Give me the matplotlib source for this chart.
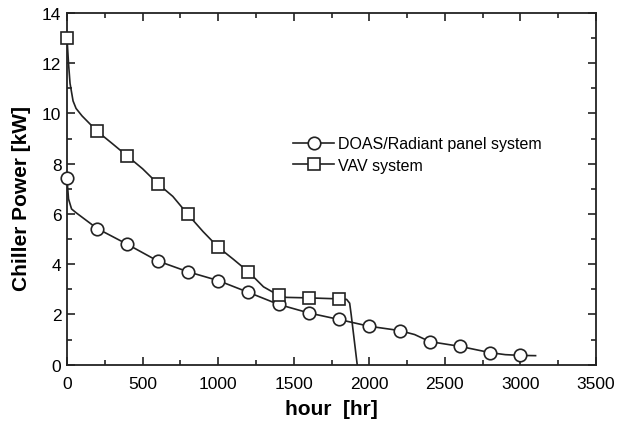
import matplotlib

matplotlib.use("Agg")
import matplotlib.pyplot as plt
from matplotlib.lines import Line2D
from matplotlib.ticker import MultipleLocator

plt.rcParams["font.family"] = ["Liberation Sans", "DejaVu Sans"]

# curve traces (hours, kW)
doas_curve_x = [0, 10, 30, 60, 200, 400, 600, 800, 1000, 1200, 1400, 1600, 1800,
                2000, 2200, 2300, 2400, 2600, 2800, 2900, 3000, 3100]
doas_curve_y = [7.4, 6.6, 6.2, 6.05, 5.42, 4.79, 4.13, 3.7, 3.35, 2.88, 2.4, 2.06, 1.8,
                1.53, 1.36, 1.2, 0.92, 0.73, 0.48, 0.4, 0.37, 0.36]
vav_curve_x = [0, 10, 20, 40, 60, 100, 200, 300, 400, 500, 600, 700, 800, 900, 1000,
               1100, 1200, 1300, 1400, 1450, 1600, 1800, 1850, 1870, 1880, 1920]
vav_curve_y = [13.0, 12.0, 11.2, 10.5, 10.2, 9.9, 9.29, 8.8, 8.3, 7.8, 7.21, 6.7, 5.98,
               5.3, 4.68, 4.2, 3.7, 3.1, 2.76, 2.68, 2.66, 2.62, 2.6, 2.45, 2.0, 0.0]

# marker points
doas_mark_x = [0, 200, 400, 600, 800, 1000, 1200, 1400, 1600, 1800, 2000, 2200,
               2400, 2600, 2800, 3000]
doas_mark_y = [7.42, 5.42, 4.79, 4.13, 3.7, 3.35, 2.88, 2.4, 2.06, 1.8, 1.53, 1.36,
               0.92, 0.73, 0.48, 0.37]
vav_mark_x = [0, 200, 400, 600, 800, 1000, 1200, 1400, 1600, 1800]
vav_mark_y = [13.0, 9.29, 8.3, 7.21, 5.98, 4.68, 3.7, 2.76, 2.66, 2.62]

LINE = "#222222"

fig = plt.figure(figsize=(6.17, 4.31), dpi=100)
ax = fig.add_axes([0.1086, 0.1515, 0.8574, 0.816])

ax.plot(doas_curve_x, doas_curve_y, color=LINE, lw=1.2, zorder=2)
ax.plot(vav_curve_x, vav_curve_y, color=LINE, lw=1.2, zorder=2)
ax.plot(doas_mark_x, doas_mark_y, ls="none", marker="o", ms=9, mfc="white",
        mec=LINE, mew=1.2, zorder=3, clip_on=False)
ax.plot(vav_mark_x, vav_mark_y, ls="none", marker="s", ms=8.5, mfc="white",
        mec=LINE, mew=1.2, zorder=3, clip_on=False)

ax.set_xlim(0, 3500)
ax.set_ylim(0, 14)
ax.xaxis.set_major_locator(MultipleLocator(500))
ax.xaxis.set_minor_locator(MultipleLocator(250))
ax.yaxis.set_major_locator(MultipleLocator(2))
ax.yaxis.set_minor_locator(MultipleLocator(1))
ax.tick_params(which="both", direction="in", top=True, right=True, width=1.2,
               color=LINE, labelsize=12.5)
ax.tick_params(axis="x", pad=8)
ax.tick_params(axis="y", pad=4)
ax.tick_params(which="major", length=6)
ax.tick_params(which="minor", length=3.5)
for sp in ax.spines.values():
    sp.set_linewidth(1.3)
    sp.set_color(LINE)

ax.set_xlabel("hour  [hr]", fontsize=15, fontweight="bold", labelpad=6)
ax.set_ylabel("Chiller Power [kW]", fontsize=15, fontweight="bold")
ax.yaxis.set_label_coords(-0.068, 0.475)

handles = [
    Line2D([], [], color=LINE, lw=1.2, marker="o", ms=9, mfc="white", mec=LINE, mew=1.2),
    Line2D([], [], color=LINE, lw=1.2, marker="s", ms=8.5, mfc="white", mec=LINE, mew=1.2),
]
ax.legend(handles, ["DOAS/Radiant panel system", "VAV system"], loc="upper left",
          bbox_to_anchor=(0.415, 0.668), frameon=False, fontsize=11.5,
          handlelength=2.6, handletextpad=0.25, borderaxespad=0, labelspacing=0.4)

fig.savefig("out.png", dpi=100)
